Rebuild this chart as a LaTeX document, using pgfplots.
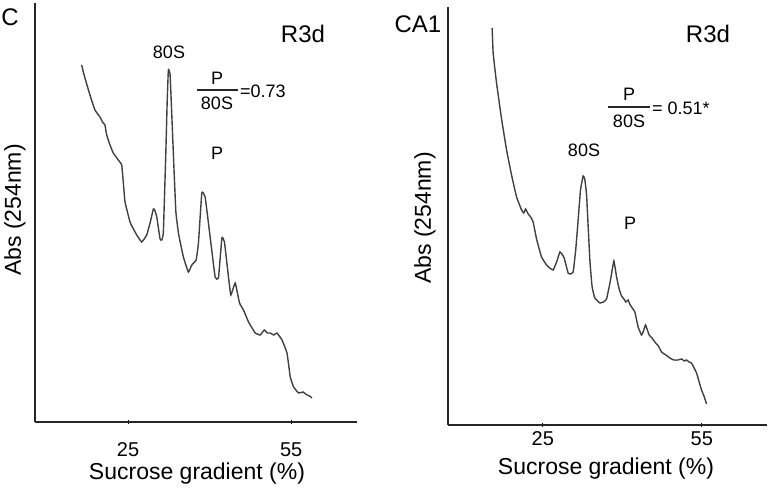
\documentclass[border=0pt]{standalone}
\usepackage{fontspec}
\setmainfont{Liberation Sans}
\usepackage{pgfplots}
\pgfplotsset{compat=1.18}
\begin{document}
\begin{tikzpicture}[x=1pt,y=1pt]
\useasboundingbox (0pt,0pt) rectangle (770pt,494pt);
\pgfplotsset{
  prof/.style={
    scale only axis,
    axis lines*=left,
    axis line style={black!85, line width=1.6pt},
    ymin=0,
    ytick=\empty,
    xtick={25,55},
    tick align=center,
    major tick length=4pt,
    tick style={black, line width=1pt},
    xticklabel style={font=\fontsize{20}{24}\selectfont, anchor=center},
    /pgf/number format/assume math mode=true,
    clip=false,
  },
  trace/.style={color=black!75, line width=1.4pt, mark=none, smooth, tension=0.2},
}
% ---------------- left panel ----------------
\begin{axis}[prof, at={(35pt,72pt)}, anchor=south west, width=322pt, height=419pt,
  xmin=7.9, xmax=67.1, ymax=419,
  xticklabel style={yshift=-26pt}]
\addplot[trace] coordinates {
(16.47,357) (17.08,344) (18.00,327) (18.92,312) (19.84,305) (20.3,300) (20.76,297)
(21.08,287) (21.69,277) (22.29,269) (23.21,262) (23.84,257) (24.13,240) (24.45,220)
(25.37,200) (26.0,193) (26.60,187) (27.52,180) (28.44,187) (29.1,200) (29.66,213)
(29.9,212) (30.29,205) (30.89,183) (31.2,182) (31.50,190) (31.94,267) (32.2,320)
(32.42,352) (32.73,348) (33.05,307) (33.4,260) (33.8,210) (34.3,188) (35.18,165)
(36.10,150) (36.73,157) (37.52,162) (37.95,179) (38.57,229) (39.18,225) (40.10,185)
(41.02,145) (41.63,144) (42.26,184) (42.73,180) (43.47,145) (43.91,127) (44.71,139)
(45.50,119) (46.23,112) (47.15,100) (47.7,95) (48.39,89) (49.31,87) (50.05,92)
(50.6,89) (51.15,89) (51.8,87) (52.38,89) (53.31,82) (54.23,69) (54.83,45)
(55.44,35) (56.36,29) (57.17,30) (57.91,27) (58.4,26) (58.83,24)
};
\end{axis}
% ---------------- right panel ----------------
\begin{axis}[prof, at={(448pt,69pt)}, anchor=south west, width=319pt, height=418pt,
  xmin=7.1, xmax=67.3, ymax=418,
  xticklabel style={yshift=-12pt}]
\addplot[trace] coordinates {
(15.43,397) (15.62,372) (16.26,342) (17.21,306) (18.15,275) (19.09,250) (20.04,228)
(20.98,215) (21.4,212) (21.74,216) (22.23,211) (22.7,208) (23.17,203) (23.81,186)
(24.75,168) (25.70,160) (26.3,157) (26.94,155) (27.6,163) (28.21,173) (28.6,171)
(29.02,167) (29.77,152) (30.2,151) (30.72,153) (31.2,175) (31.66,205) (32.1,235)
(32.6,249) (32.9,246) (33.25,230) (33.87,165) (34.3,138) (34.81,127) (35.75,122)
(36.4,123) (37.02,126) (37.77,145) (38.40,164) (38.91,148) (39.4,136) (39.85,129)
(40.3,126) (40.66,123) (41.09,125) (41.4,121) (41.74,118) (42.36,113) (42.98,98)
(43.62,90) (44.0,94) (44.38,100) (45.06,90) (45.6,87) (46.13,83) (46.8,79)
(47.40,73) (48.2,70) (48.96,67) (49.7,65) (50.53,65) (51.2,66) (51.7,64)
(52.11,65) (52.6,63) (53.06,62) (54.00,52) (54.5,43) (54.94,35) (55.4,29) (55.89,21)
};
\end{axis}
% ---------------- texts ----------------
\def\big{\fontsize{24}{28}\selectfont}
\def\lab{\fontsize{23}{27}\selectfont}
\def\sm{\fontsize{18}{21}\selectfont}
% left
\node at (10pt,477pt) {\big C};
\node at (303pt,460pt) {\big R3d};
\node at (169pt,442pt) {\sm 80S};
\node at (217pt,416pt) {\sm P};
\draw[black!85, line width=1.2pt] (197pt,404pt) -- (238pt,404pt);
\node at (217pt,391pt) {\sm 80S};
\node[anchor=west, inner sep=0pt] at (240pt,403pt) {\sm =0.73};
\node at (217pt,341pt) {\sm P};
\node[rotate=90] at (15pt,284pt) {\lab Abs (254nm)};
\node at (197pt,20pt) {\lab Sucrose gradient (\%)};
% right
\node at (418pt,470pt) {\big CA1};
\node at (708pt,460pt) {\big R3d};
\node at (584pt,344pt) {\sm 80S};
\node at (629pt,400pt) {\sm P};
\draw[black!85, line width=1.2pt] (608pt,387pt) -- (650pt,387pt);
\node at (629pt,373pt) {\sm 80S};
\node[anchor=west, inner sep=0pt] at (652pt,386pt) {\sm = 0.51*};
\node at (630pt,271pt) {\sm P};
\node[rotate=90] at (425pt,276pt) {\lab Abs (254nm)};
\node at (606pt,25pt) {\lab Sucrose gradient (\%)};
\end{tikzpicture}
\end{document}
